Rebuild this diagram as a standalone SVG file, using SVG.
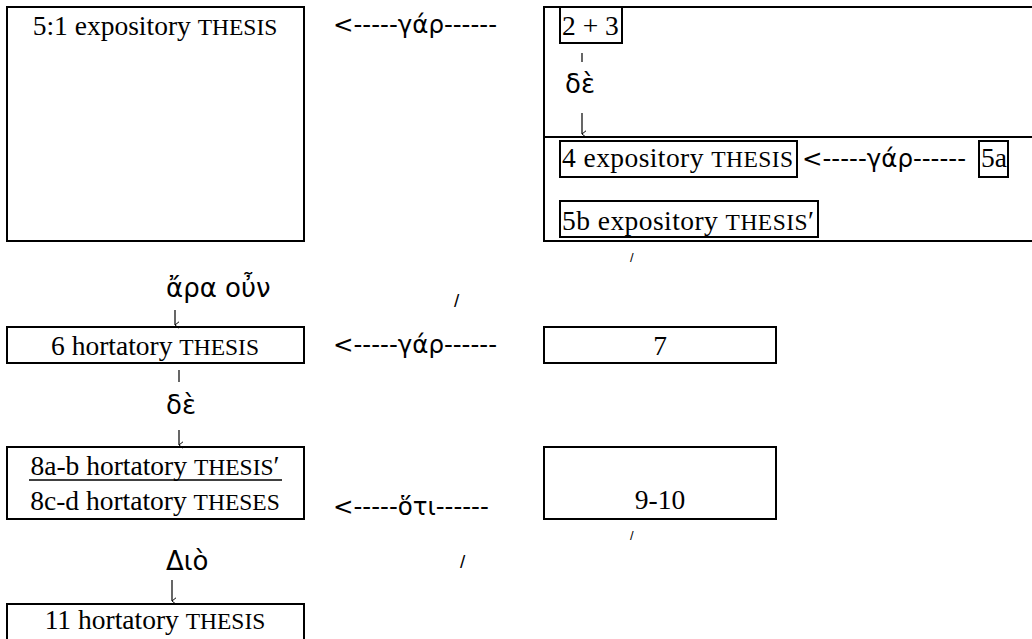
<svg xmlns="http://www.w3.org/2000/svg" width="1032" height="639" viewBox="0 0 1032 639">
<defs>
<marker id="ah" viewBox="0 0 10 10" refX="5" refY="9" markerWidth="8" markerHeight="8" orient="auto-start-reverse" markerUnits="userSpaceOnUse">
<path d="M1,4 L5,9 L9,4" fill="none" stroke="#000" stroke-width="1.2"/>
</marker>
</defs>
<style>
.box{fill:none;stroke:#000;stroke-width:2}
.t{font-family:"Liberation Serif","Times New Roman","DejaVu Serif",serif;font-size:27.5px;fill:#000}
.m{text-anchor:middle}
.sc{font-size:23.5px}
.g{font-family:"DejaVu Sans","Liberation Sans",Arial,sans-serif;font-size:24.5px;fill:#000}
.gl{font-family:"DejaVu Sans","Liberation Sans",Arial,sans-serif;font-size:26px;fill:#000}
.sl{font-family:"Liberation Sans",Arial,sans-serif;fill:#000}
.c{stroke:#000;stroke-width:1.2;fill:none}
</style>
<rect width="1032" height="639" fill="#fff"/>
<g id="n5-1">
<rect class="box" x="7" y="7" width="297" height="234"/>
<text class="t m" x="155" y="35">5:1 expository <tspan class="sc">THESIS</tspan></text>
</g>
<g id="n2-5b">
<rect class="box" x="544" y="7" width="520" height="234"/>
<line class="box" x1="544" y1="137" x2="1040" y2="137"/>
</g>
<g id="n2-3">
<rect class="box" x="560" y="7" width="62" height="36"/>
<text class="t" x="562" y="35">2 + 3</text>
</g>
<g id="n4">
<rect class="box" x="560" y="141" width="237" height="36"/>
<text class="t" x="562" y="167" textLength="231" lengthAdjust="spacing">4 expository <tspan class="sc">THESIS</tspan></text>
</g>
<g id="n5a">
<rect class="box" x="979" y="141" width="29" height="36"/>
<text class="t" x="981" y="167">5a</text>
</g>
<g id="n5b">
<rect class="box" x="560" y="201" width="258" height="36"/>
<text class="t" x="562" y="230" textLength="252" lengthAdjust="spacing">5b expository <tspan class="sc">THESIS</tspan>′</text>
</g>
<g id="n6">
<rect class="box" x="7" y="327" width="297" height="36"/>
<text class="t m" x="155" y="355">6 hortatory <tspan class="sc">THESIS</tspan></text>
</g>
<g id="n7">
<rect class="box" x="544" y="327" width="232" height="36"/>
<text class="t m" x="660" y="355">7</text>
</g>
<g id="n8">
<rect class="box" x="7" y="447" width="297" height="72"/>
<text class="t m" x="155" y="475">8a-b hortatory <tspan class="sc">THESIS</tspan>′</text>
<line x1="29" y1="480" x2="282" y2="480" stroke="#000" stroke-width="1.3"/>
<text class="t m" x="155" y="510">8c-d hortatory <tspan class="sc">THESES</tspan></text>
</g>
<g id="n9-10">
<rect class="box" x="544" y="447" width="232" height="72"/>
<text class="t m" x="660" y="509">9-10</text>
</g>
<g id="n11">
<rect class="box" x="7" y="604" width="297" height="36"/>
<text class="t m" x="155" y="629">11 hortatory <tspan class="sc">THESIS</tspan></text>
</g>
<g id="connectors">
<text class="g" x="333" y="33">&lt;-----γάρ------</text>
<line class="c" x1="582" y1="53" x2="582" y2="62"/>
<text class="gl" x="565" y="93">δὲ</text>
<line class="c" x1="582" y1="113" x2="582" y2="134" marker-end="url(#ah)"/>
<text class="g" x="802" y="167">&lt;-----γάρ------</text>
<text class="sl" x="630" y="262" font-size="13">/</text>
<text class="gl" x="166" y="297">ἄρα οὖν</text>
<text class="sl" x="454" y="307" font-size="19">/</text>
<line class="c" x1="175" y1="310" x2="175" y2="325" marker-end="url(#ah)"/>
<text class="g" x="333" y="353">&lt;-----γάρ------</text>
<line class="c" x1="179" y1="370" x2="179" y2="382"/>
<text class="gl" x="166" y="414">δὲ</text>
<line class="c" x1="179" y1="430" x2="179" y2="445" marker-end="url(#ah)"/>
<text class="g" x="333" y="515">&lt;-----ὅτι------</text>
<text class="sl" x="630" y="540" font-size="13">/</text>
<text class="gl" x="166" y="570">Διὸ</text>
<text class="sl" x="460" y="568" font-size="19">/</text>
<line class="c" x1="172" y1="580" x2="172" y2="601" marker-end="url(#ah)"/>
</g>
</svg>
